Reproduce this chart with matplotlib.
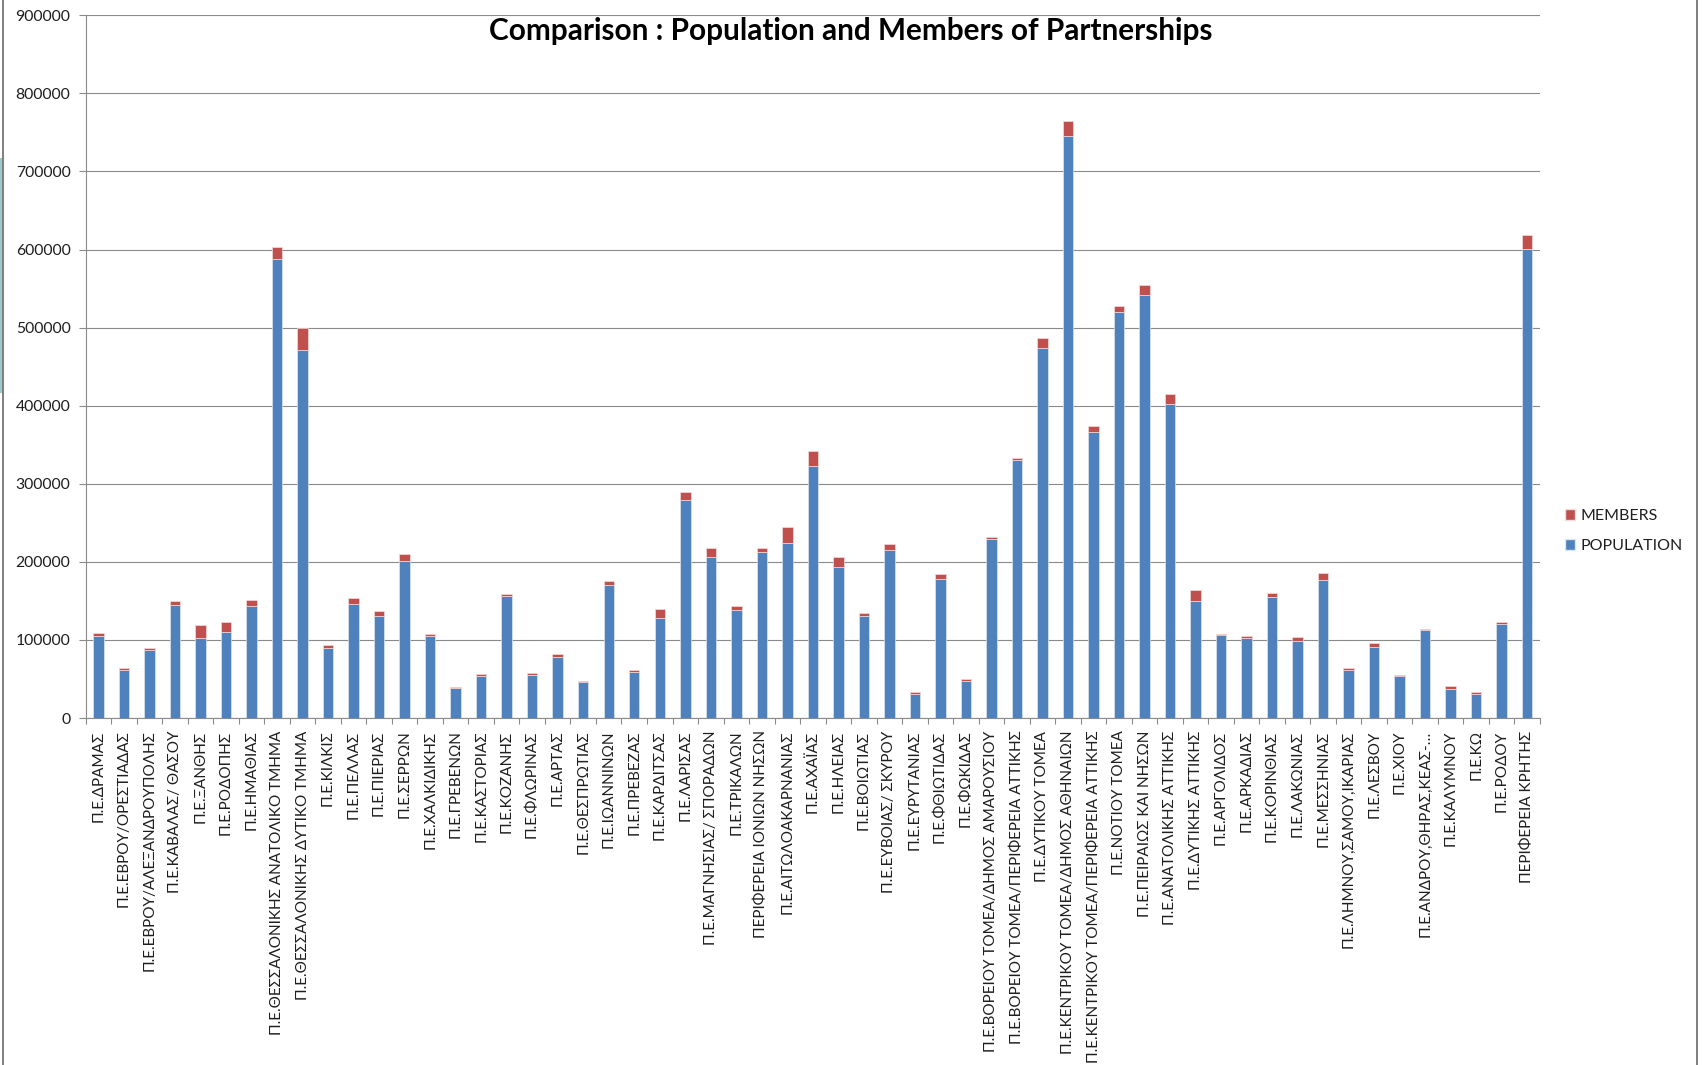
import numpy as np
import matplotlib
matplotlib.use("Agg")
import matplotlib.pyplot as plt
from matplotlib.patches import Patch, Rectangle
from matplotlib.lines import Line2D

plt.rcParams['font.family'] = ['Lato', 'Noto Sans', 'DejaVu Sans']

regions = [
    "Π.Ε.ΔΡΑΜΑΣ",
    "Π.Ε.ΕΒΡΟΥ/ΟΡΕΣΤΙΑΔΑΣ",
    "Π.Ε.ΕΒΡΟΥ/ΑΛΕΞΑΝΔΡΟΥΠΟΛΗΣ",
    "Π.Ε.ΚΑΒΑΛΑΣ/ ΘΑΣΟΥ",
    "Π.Ε.ΞΑΝΘΗΣ",
    "Π.Ε.ΡΟΔΟΠΗΣ",
    "Π.Ε.ΗΜΑΘΙΑΣ",
    "Π.Ε.ΘΕΣΣΑΛΟΝΙΚΗΣ ΑΝΑΤΟΛΙΚΟ ΤΜΗΜΑ",
    "Π.Ε.ΘΕΣΣΑΛΟΝΙΚΗΣ ΔΥΤΙΚΟ ΤΜΗΜΑ",
    "Π.Ε.ΚΙΛΚΙΣ",
    "Π.Ε.ΠΕΛΛΑΣ",
    "Π.Ε.ΠΙΕΡΙΑΣ",
    "Π.Ε.ΣΕΡΡΩΝ",
    "Π.Ε.ΧΑΛΚΙΔΙΚΗΣ",
    "Π.Ε.ΓΡΕΒΕΝΩΝ",
    "Π.Ε.ΚΑΣΤΟΡΙΑΣ",
    "Π.Ε.ΚΟΖΑΝΗΣ",
    "Π.Ε.ΦΛΩΡΙΝΑΣ",
    "Π.Ε.ΑΡΤΑΣ",
    "Π.Ε.ΘΕΣΠΡΩΤΙΑΣ",
    "Π.Ε.ΙΩΑΝΝΙΝΩΝ",
    "Π.Ε.ΠΡΕΒΕΖΑΣ",
    "Π.Ε.ΚΑΡΔΙΤΣΑΣ",
    "Π.Ε.ΛΑΡΙΣΑΣ",
    "Π.Ε.ΜΑΓΝΗΣΙΑΣ/ ΣΠΟΡΑΔΩΝ",
    "Π.Ε.ΤΡΙΚΑΛΩΝ",
    "ΠΕΡΙΦΕΡΕΙΑ ΙΟΝΙΩΝ ΝΗΣΩΝ",
    "Π.Ε.ΑΙΤΩΛΟΑΚΑΡΝΑΝΙΑΣ",
    "Π.Ε.ΑΧΑΪΑΣ",
    "Π.Ε.ΗΛΕΙΑΣ",
    "Π.Ε.ΒΟΙΩΤΙΑΣ",
    "Π.Ε.ΕΥΒΟΙΑΣ/ ΣΚΥΡΟΥ",
    "Π.Ε.ΕΥΡΥΤΑΝΙΑΣ",
    "Π.Ε.ΦΘΙΩΤΙΔΑΣ",
    "Π.Ε.ΦΩΚΙΔΑΣ",
    "Π.Ε.ΒΟΡΕΙΟΥ ΤΟΜΕΑ/ΔΗΜΟΣ ΑΜΑΡΟΥΣΙΟΥ",
    "Π.Ε.ΒΟΡΕΙΟΥ ΤΟΜΕΑ/ΠΕΡΙΦΕΡΕΙΑ ΑΤΤΙΚΗΣ",
    "Π.Ε.ΔΥΤΙΚΟΥ ΤΟΜΕΑ",
    "Π.Ε.ΚΕΝΤΡΙΚΟΥ ΤΟΜΕΑ/ΔΗΜΟΣ ΑΘΗΝΑΙΩΝ",
    "Π.Ε.ΚΕΝΤΡΙΚΟΥ ΤΟΜΕΑ/ΠΕΡΙΦΕΡΕΙΑ ΑΤΤΙΚΗΣ",
    "Π.Ε.ΝΟΤΙΟΥ ΤΟΜΕΑ",
    "Π.Ε.ΠΕΙΡΑΙΩΣ ΚΑΙ ΝΗΣΩΝ",
    "Π.Ε.ΑΝΑΤΟΛΙΚΗΣ ΑΤΤΙΚΗΣ",
    "Π.Ε.ΔΥΤΙΚΗΣ ΑΤΤΙΚΗΣ",
    "Π.Ε.ΑΡΓΟΛΙΔΟΣ",
    "Π.Ε.ΑΡΚΑΔΙΑΣ",
    "Π.Ε.ΚΟΡΙΝΘΙΑΣ",
    "Π.Ε.ΛΑΚΩΝΙΑΣ",
    "Π.Ε.ΜΕΣΣΗΝΙΑΣ",
    "Π.Ε.ΛΗΜΝΟΥ,ΣΑΜΟΥ,ΙΚΑΡΙΑΣ",
    "Π.Ε.ΛΕΣΒΟΥ",
    "Π.Ε.ΧΙΟΥ",
    "Π.Ε.ΑΝΔΡΟΥ,ΘΗΡΑΣ,ΚΕΑΣ-…",
    "Π.Ε.ΚΑΛΥΜΝΟΥ",
    "Π.Ε.ΚΩ",
    "Π.Ε.ΡΟΔΟΥ",
    "ΠΕΡΙΦΕΡΕΙΑ ΚΡΗΤΗΣ",
]

population = [
    104400, 62100, 87100, 144400, 102000, 110400, 143200, 587800, 470900,
    89500, 145600, 130100, 201100, 105600, 38800, 54300, 156400, 55500,
    77600, 46000, 170100, 58500, 128300, 278700, 206500, 137900, 213100,
    224400, 322300, 193400, 130700, 214800, 31000, 177800, 47700, 229200,
    330600, 473300, 746000, 366400, 519800, 541300, 402800, 149800, 106200,
    102100, 154600, 99100, 177300, 62100, 90700, 53700, 112200, 37000,
    31000, 120600, 600400,
]

members = [
    4800, 2400, 3000, 6000, 17300, 12500, 8400, 15500, 29200,
    3600, 7800, 7200, 9000, 2400, 1200, 1800, 3000, 1800,
    4200, 1200, 5400, 2400, 10700, 11300, 10700, 6000, 4200,
    19700, 19100, 12500, 3600, 7800, 1800, 7200, 1800, 2400,
    3000, 13700, 18500, 7200, 8400, 13700, 11900, 14300, 1800,
    3000, 6000, 4200, 7800, 1800, 4800, 1200, 2400, 4200,
    1800, 2400, 17900,
]

y_ticks = list(range(0, 900001, 100000))

BLUE = "#4F81BD"
RED = "#C0504D"
GRID = "#8A8A8A"
TEXT = "#1E1E1E"

W, H = 1702, 1065
fig = plt.figure(figsize=(W / 100, H / 100), dpi=100)
fig.patch.set_facecolor("white")

ax = fig.add_axes([85.7 / W, 1 - 718 / H, (1540 - 85.7) / W, (718 - 15.3) / H])

x = np.arange(len(regions))
pop = np.array(population)
mem = np.array(members)
bar_w = 0.41
ax.bar(x, pop, width=bar_w, color=BLUE, edgecolor="#DCE6F2", linewidth=0.5,
       label="POPULATION", zorder=3)
ax.bar(x, mem, width=bar_w, bottom=pop, color=RED, edgecolor="#F2DCDB",
       linewidth=0.5, label="MEMBERS", zorder=3)

ax.set_xlim(-0.5, len(regions) - 0.5)
ax.set_ylim(0, 900000)
ax.set_yticks(y_ticks)
ax.set_yticklabels([str(v) for v in y_ticks])
ax.yaxis.grid(True, color=GRID, linewidth=0.8, zorder=0)
ax.set_axisbelow(True)

ax.set_xticks(x)
ax.set_xticklabels(regions, rotation=90, ha="center", va="top")
ax.set_xticks(np.arange(-0.5, len(regions), 1.0), minor=True)
ax.tick_params(axis="x", which="major", length=0, pad=9, labelsize=11,
               labelcolor=TEXT)
ax.tick_params(axis="x", which="minor", length=4, width=0.8, color=GRID,
               direction="out")
ax.tick_params(axis="y", which="major", length=5, width=0.8, color=GRID,
               direction="out", pad=6, labelsize=11.3, labelcolor=TEXT)

for side in ("top", "right"):
    ax.spines[side].set_visible(False)
for side in ("left", "bottom"):
    ax.spines[side].set_color(GRID)
    ax.spines[side].set_linewidth(0.8)

fig.text(0.5, 1 - 31 / H, "Comparison : Population and Members of Partnerships",
         ha="center", va="center", fontsize=21.4, fontweight="bold", color="black")

handles = [Patch(facecolor=RED, edgecolor="#F2DCDB", label="MEMBERS"),
           Patch(facecolor=BLUE, edgecolor="#DCE6F2", label="POPULATION")]
fig.legend(handles=handles, loc="center left",
           bbox_to_anchor=(1565 / W, 1 - 531 / H), frameon=False,
           handlelength=0.65, handleheight=0.65, handletextpad=0.35,
           labelspacing=1.0, fontsize=11.5, borderaxespad=0, borderpad=0,
           labelcolor=TEXT)

# frame edges and the tab peeking in at the left side
fig.add_artist(Line2D([3 / W, 3 / W], [0, 1], transform=fig.transFigure,
                      color="#7F7F7F", linewidth=1.4))
fig.add_artist(Line2D([1697 / W, 1697 / W], [0, 1], transform=fig.transFigure,
                      color="#7F7F7F", linewidth=1.4))
fig.add_artist(Rectangle((0, 1 - 393 / H), 2.5 / W, (393 - 158) / H,
                         transform=fig.transFigure, facecolor="#9DCACA",
                         edgecolor="none"))

fig.savefig("out.png", dpi=100, facecolor="white")
